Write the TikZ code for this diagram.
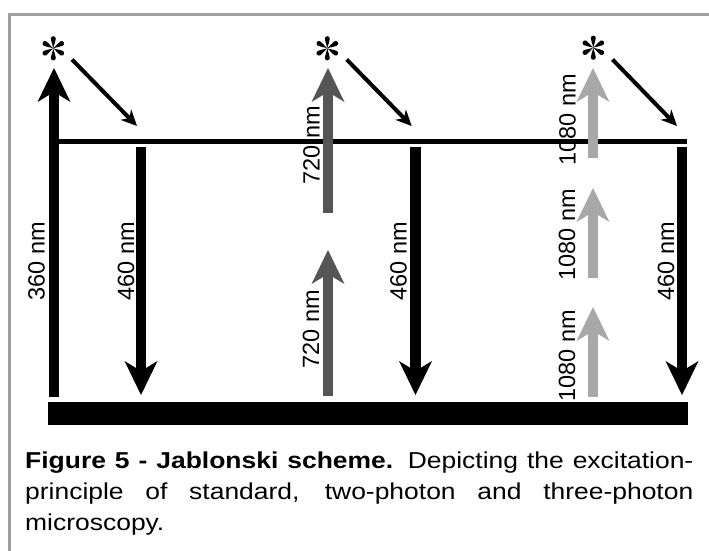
\documentclass[tikz,border=0pt]{standalone}
\usepackage{fontspec}
\usepackage{graphicx}
\setmainfont{Liberation Sans}
\usetikzlibrary{arrows.meta}
\definecolor{framegray}{HTML}{9E9E9E}
\definecolor{twoph}{HTML}{555555}
\definecolor{threeph}{HTML}{A8A8A8}
\newcommand{\capline}[2][581pt]{\scalebox{1.15}[1]{\makebox[#1][s]{#2}}}
\begin{document}
\begin{tikzpicture}[x=1pt,y=-1pt,
  lvl/.style={line width=5pt},
  big/.style={line width=10.5pt,-{Stealth[length=34pt,width=33pt,inset=10pt,line width=0pt]}},
  onep/.style={big,draw=black},
  twop/.style={big,draw=twoph,fill=twoph},
  threep/.style={big,draw=threeph,fill=threeph},
  relaxarr/.style={line width=4pt,-{Stealth[length=16pt,width=15pt,inset=5pt,line width=0pt]}},
  lab/.style={rotate=90,inner sep=0pt,font=\fontsize{23.5}{23.5}\selectfont},
  capstyle/.style={anchor=base west,inner sep=0pt,font=\fontsize{23}{31}\selectfont},
  starnode/.style={inner sep=0pt,minimum size=24pt},
  arm/.pic={\fill (0,0) .. controls (4,-0.6) and (6.5,-2.5) .. (9.6,-2.5)
              arc[start angle=-90,end angle=90,radius=2.5]
              .. controls (6.5,2.5) and (4,0.6) .. (0,0) -- cycle;}
]
\useasboundingbox (0,0) rectangle (709,550);
% frame
\draw[framegray,line width=3pt] (9.5,555) |- (715,14);

% levels
\coordinate (s1l) at (54,141);
\coordinate (s1r) at (687,141);
\draw[lvl] (s1l) -- (s1r);
\node[fill=black,inner sep=0pt,minimum width=640pt,minimum height=23pt] (S0) at (368,413) {};

% stars (excited state)
\node[starnode] (st1) at (53.3,48.3) {};
\node[starnode] (st2) at (327.3,48.3) {};
\node[starnode] (st3) at (593.3,47.7) {};
\foreach \s in {st1,st2,st3}{
  \foreach \a in {30,90,150,210,270,330}{
    \pic[rotate=\a] at (\s) {arm};
  }
}

% one-photon
\coordinate (a1b) at (54,397);
\coordinate (a1t) at (54,68);
\draw[onep] (a1b) -- (a1t);

% two-photon
\coordinate (b1b) at (328,213);
\coordinate (b1t) at (328,68);
\coordinate (b2b) at (328,396);
\coordinate (b2t) at (328,250);
\draw[twop] (b1b) -- (b1t);
\draw[twop] (b2b) -- (b2t);

% three-photon
\coordinate (c1b) at (593,158);
\coordinate (c1t) at (593,68);
\coordinate (c2b) at (593,278);
\coordinate (c2t) at (593,188);
\coordinate (c3b) at (593,397);
\coordinate (c3t) at (593,307);
\draw[threep] (c1b) -- (c1t);
\draw[threep] (c2b) -- (c2t);
\draw[threep] (c3b) -- (c3t);

% relaxation
\coordinate (r1s) at (72,59.5);   \coordinate (r1e) at (137,126);
\coordinate (r2s) at (346.7,59.5);\coordinate (r2e) at (411.7,126);
\coordinate (r3s) at (612.5,59.5);\coordinate (r3e) at (677,126);
\draw[relaxarr] (r1s) -- (r1e);
\draw[relaxarr] (r2s) -- (r2e);
\draw[relaxarr] (r3s) -- (r3e);

% emission
\coordinate (e1t) at (141,147);   \coordinate (e1b) at (141,395);
\coordinate (e2t) at (415.5,147); \coordinate (e2b) at (415.5,395);
\coordinate (e3t) at (682,147);   \coordinate (e3b) at (682,395);
\draw[onep] (e1t) -- (e1b);
\draw[onep] (e2t) -- (e2b);
\draw[onep] (e3t) -- (e3b);

% labels
\node[lab] (l360) at (36.5,261) {360 nm};
\node[lab] (l460a) at (126,261) {460 nm};
\node[lab] (l460b) at (398.5,261) {460 nm};
\node[lab] (l460c) at (666,261) {460 nm};
\node[lab] (l720a) at (311.5,145) {720 nm};
\node[lab] (l720b) at (311,329) {720 nm};
\node[lab] (l1080a) at (567.5,120) {1080 nm};
\node[lab] (l1080b) at (567,235) {1080 nm};
\node[lab] (l1080c) at (567,356) {1080 nm};

% caption
\node[capstyle] (cap1) at (25,468) {\capline{\textbf{Figure 5 - Jablonski scheme.} Depicting the excitation-}};
\node[capstyle] (cap2) at (25,499) {\capline{principle of standard, two-photon and three-photon}};
\node[capstyle] (cap3) at (25,530) {\scalebox{1.15}[1]{microscopy.}};
\end{tikzpicture}
\end{document}
